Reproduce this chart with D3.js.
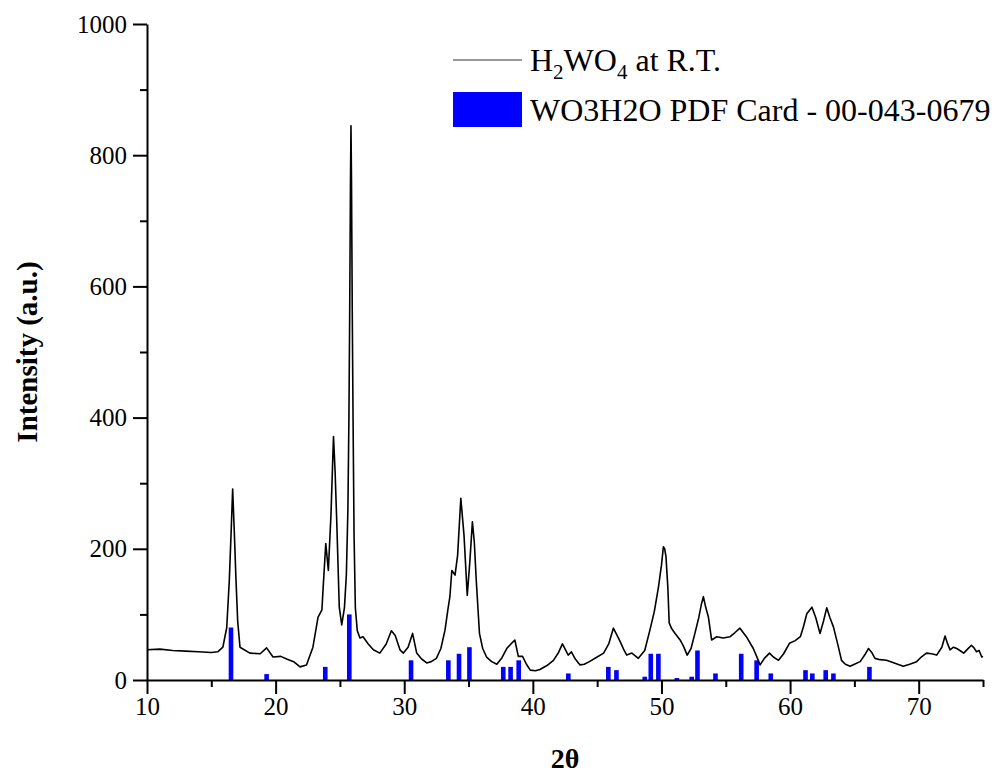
<!DOCTYPE html>
<html>
<head>
  <meta charset="utf-8">
  <title>XRD H2WO4</title>
  <style>
    body {margin: 0; background: #fff;}
    .axis path, .axis line {stroke: #000; stroke-width: 2;}
  </style>
</head>
<body>
  <script src="https://d3js.org/d3.v7.min.js"></script>
  <div id="scene"></div>
  <script>

    var serif = "'Liberation Serif', 'Times New Roman', Times, serif";

    var scanTheta = [10, 11, 12, 13, 14, 15, 15.5, 15.9, 16.2, 16.4, 16.55, 16.66, 16.78, 16.92, 17.05, 17.23,
      18.0, 18.8, 19.3, 19.8, 20.4, 20.86, 21.4, 21.9, 22.4, 22.9, 23.3, 23.6, 23.7, 23.9, 24.1, 24.3, 24.5,
      24.62, 24.75, 24.95, 25.14, 25.35, 25.5, 25.62, 25.7, 25.76, 25.82, 25.86, 25.9, 25.96, 26.02, 26.1, 26.2,
      26.35, 26.56, 26.8, 27.2, 27.6, 28.1, 28.6, 29.0, 29.3, 29.67, 29.93, 30.3, 30.65, 30.97, 31.35, 31.75,
      32.1, 32.5, 32.85, 33.17, 33.4, 33.55, 33.7, 33.95, 34.15, 34.4, 34.65, 34.9, 35.1, 35.3, 35.45, 35.6,
      35.85, 36.1, 36.4, 36.8, 37.2, 37.6, 37.97, 38.3, 38.6, 38.87, 39.2, 39.5, 39.8, 40.2, 40.55, 41.1, 41.6,
      42.0, 42.3, 42.75, 43.0, 43.3, 43.67, 44.0, 44.4, 45.0, 45.5, 45.9, 46.26, 46.5, 46.8, 47.1, 47.3, 47.7,
      48.2, 48.7, 49.1, 49.45, 49.77, 50.0, 50.15, 50.25, 50.35, 50.5, 50.6, 50.8, 51.06, 51.45, 51.7, 52.0,
      52.3, 52.6, 52.9, 53.1, 53.26, 53.45, 53.65, 53.9, 54.3, 54.8, 55.34, 55.7, 56.1, 56.6, 57.14, 57.4,
      57.67, 58.0, 58.4, 58.7, 59.1, 59.5, 59.95, 60.4, 60.8, 61.05, 61.3, 61.7, 62.0, 62.33, 62.6, 62.85,
      63.1, 63.37, 63.7, 64.0, 64.3, 64.67, 65.0, 65.45, 65.8, 66.1, 66.35, 66.6, 67.0, 67.5, 68.1, 68.8,
      69.3, 69.84, 70.2, 70.6, 71.0, 71.4, 71.8, 72.05, 72.25, 72.44, 72.7, 72.96, 73.2, 73.5, 73.8, 74.1,
      74.3, 74.5, 74.7, 74.9, 75];
    var scanCounts = [46, 47, 45, 44, 43, 42, 43, 50, 80, 152, 230, 291, 230, 152, 90, 50,
      41, 40, 49, 35, 36, 32, 28, 20, 23, 50, 96, 107, 142, 208, 167, 250, 371,
      320, 244, 111, 84, 110, 160, 260, 400, 560, 760, 845, 760, 560, 400, 220, 110,
      75, 64, 66, 55, 46, 41, 55, 75, 68, 46, 41, 50, 71, 41, 32, 26,
      28, 33, 48, 76, 108, 127, 167, 160, 190, 277, 220, 129, 180, 241, 210, 152,
      71, 48, 35, 28, 24, 34, 48, 55, 61, 36, 36, 24, 15, 14, 16, 22, 30,
      42, 55, 38, 43, 32, 23, 24, 28, 35, 41, 55, 79, 70, 58, 45, 38, 41,
      33, 45, 76, 105, 142, 175, 203, 200, 188, 140, 87, 78, 71, 61, 52, 38,
      48, 71, 95, 115, 127, 110, 96, 61, 66, 64, 66, 72, 79, 66, 48, 36,
      23, 33, 41, 35, 30, 40, 56, 60, 66, 82, 101, 111, 95, 71, 90, 110,
      95, 81, 55, 30, 24, 21, 24, 28, 38, 48, 42, 33, 31, 30, 26, 21,
      24, 28, 35, 41, 40, 38, 50, 67, 55, 46, 50, 48, 45, 41, 47, 53,
      49, 43, 45, 35, 36];

    // reference card lines (2theta, relative intensity)
    var cardTheta = [16.53, 19.3, 23.86, 25.73, 30.53, 33.43, 34.26, 35.07, 37.7, 38.27, 38.9, 42.76,
      45.87, 46.5, 48.7, 49.17, 49.76, 51.2, 52.35, 52.8, 54.2, 56.2, 57.4, 58.5, 61.2, 61.73, 62.77,
      63.37, 66.17];
    var cardIntensity = [80, 9, 20, 100, 30, 30, 40, 50, 20, 20, 30, 10,
      20, 15, 5, 40, 40, 3, 5, 45, 10, 40, 30, 10, 15, 10, 15,
      10, 20];

    var xMajor = [10, 20, 30, 40, 50, 60, 70];
    var xMinor = [15, 25, 35, 45, 55, 65, 75];
    var yMajor = [0, 200, 400, 600, 800, 1000];
    var yMinor = [100, 300, 500, 700, 900];

    var width = 995, height = 775;
    var svg = d3.select("#scene").append("svg")
      .attr("width", width)
      .attr("height", height)
      .attr("font-family", serif);

    var x = d3.scaleLinear().domain([10, 75]).range([147, 983]);
    var y = d3.scaleLinear().domain([0, 1000]).range([680, 24]);

    // card bars
    svg.append("g")
      .selectAll("rect")
      .data(cardTheta)
      .join("rect")
      .attr("x", (d) => x(d) - 2.3)
      .attr("width", 4.6)
      .attr("y", (d, i) => y(cardIntensity[i]))
      .attr("height", (d, i) => y(0) - y(cardIntensity[i]))
      .attr("fill", "#0000ff");

    // measured line
    var pts = scanTheta.map((t, i) => [t, scanCounts[i]]);
    var line = d3.line().x((d) => x(d[0])).y((d) => y(d[1]));
    svg.append("path")
      .datum(pts)
      .attr("d", line)
      .attr("fill", "none")
      .attr("stroke", "#000")
      .attr("stroke-width", 1.6)
      .attr("stroke-linejoin", "round");

    // axes
    function styleAxis(g) {
      g.attr("font-family", serif).attr("font-size", 25);
      g.selectAll("text").attr("font-family", serif).attr("fill", "#000");
    }

    svg.append("g")
      .attr("class", "axis")
      .attr("transform", "translate(0," + y(0) + ")")
      .call(d3.axisBottom(x).tickValues(xMinor).tickSize(7).tickFormat(""))
      .select(".domain").remove();
    svg.append("g")
      .attr("class", "axis")
      .attr("transform", "translate(0," + y(0) + ")")
      .call(d3.axisBottom(x).tickValues(xMajor).tickSize(14).tickSizeOuter(0).tickPadding(3).tickFormat(d3.format("d")))
      .call(styleAxis);

    svg.append("g")
      .attr("class", "axis")
      .attr("transform", "translate(" + x(10) + ",0)")
      .call(d3.axisLeft(y).tickValues(yMinor).tickSize(7).tickFormat(""))
      .select(".domain").remove();
    svg.append("g")
      .attr("class", "axis")
      .attr("transform", "translate(" + x(10) + ",0)")
      .call(d3.axisLeft(y).tickValues(yMajor).tickSize(14).tickSizeOuter(0).tickPadding(6).tickFormat(d3.format("d")))
      .call(styleAxis);

    // titles
    svg.append("text")
      .attr("x", 565)
      .attr("y", 768)
      .attr("text-anchor", "middle")
      .attr("font-family", serif)
      .attr("font-size", 28)
      .attr("font-weight", "bold")
      .text("2θ");

    svg.append("text")
      .attr("transform", "translate(37,352) rotate(-90)")
      .attr("text-anchor", "middle")
      .attr("font-family", serif)
      .attr("font-size", 29)
      .attr("font-weight", "bold")
      .text("Intensity (a.u.)");

    // legend
    var leg = svg.append("g").attr("font-family", serif);
    leg.append("line")
      .attr("x1", 453).attr("x2", 522)
      .attr("y1", 60).attr("y2", 60)
      .attr("stroke", "#333").attr("stroke-width", 1.2);
    var t1 = leg.append("text")
      .attr("x", 530).attr("y", 71)
      .attr("font-size", 32);
    t1.append("tspan").text("H");
    t1.append("tspan").attr("font-size", 21).attr("dy", 8).text("2");
    t1.append("tspan").attr("dy", -8).text("WO");
    t1.append("tspan").attr("font-size", 21).attr("dy", 8).text("4");
    t1.append("tspan").attr("dy", -8).text(" at R.T.");

    leg.append("rect")
      .attr("x", 453).attr("y", 92)
      .attr("width", 69).attr("height", 35)
      .attr("fill", "#0000ff");
    leg.append("text")
      .attr("x", 530).attr("y", 121)
      .attr("font-size", 32)
      .text("WO3H2O PDF Card - 00-043-0679");

  </script>
</body>
</html>
